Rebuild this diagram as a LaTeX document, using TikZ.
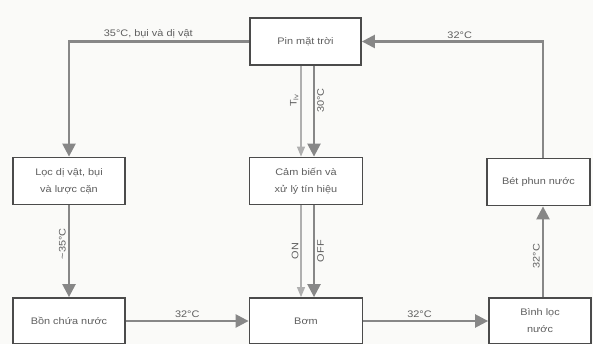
\documentclass[tikz,border=0pt]{standalone}
\usepackage{fontspec}
\setmainfont{Liberation Sans}[FakeStretch=1.15]
\usetikzlibrary{arrows.meta}
\definecolor{paper}{RGB}{250,250,248}
\definecolor{boxline}{RGB}{75,75,75}
\definecolor{flowline}{RGB}{135,135,135}
\definecolor{thinline}{RGB}{175,175,175}
\definecolor{txt}{RGB}{95,95,95}
\tikzset{
  box/.style={draw=boxline, line width=1.8pt, fill=white, minimum height=47pt,
    align=center, text=txt, font=\fontsize{9.5}{17}\selectfont},
  flow/.style={draw=flowline, line width=2.4pt,
    -{Triangle[length=13pt,width=13pt]}},
  thin/.style={draw=thinline, line width=1.1pt,
    -{Triangle[length=10pt,width=8pt]}},
  lbl/.style={text=txt, font=\fontsize{9.5}{11}\selectfont, inner sep=2pt}
}
\begin{document}
\begin{tikzpicture}[x=1pt,y=-1pt]
  \useasboundingbox (0,0) rectangle (593,344);
  \fill[paper] (0,0) rectangle (593,344);
  % boxes
  \node[box, minimum width=111pt] (pin) at (305.5,41.5) {Pin mặt trời};
  \node[box, minimum width=112pt] (loc) at (69,181) {Lọc dị vật, bụi\\và lược cặn};
  \node[box, minimum width=113pt] (cambien) at (306,181) {Cảm biến và\\xử lý tín hiệu};
  \node[box, minimum width=103pt] (betphun) at (538.5,182) {Bét phun nước};
  \node[box, minimum width=112pt, minimum height=46pt] (bon) at (69,321) {Bồn chứa nước};
  \node[box, minimum width=113pt, minimum height=46pt] (bom) at (306,321) {Bơm};
  \node[box, minimum width=102pt, minimum height=46pt] (binhloc) at (540,321) {Bình lọc\\nước};
  % outer loop
  \draw[flow] (pin.west) -| node[lbl, pos=0.28, above] {35°C, bụi và dị vật} (loc.north);
  \draw[flow] (loc.south) -- node[lbl, pos=0.42, rotate=90, above] {\textasciitilde35°C} (bon.north);
  \draw[flow] (bon.east) -- node[lbl, above] {32°C} (bom.west);
  \draw[flow] (bom.east) -- node[lbl, pos=0.45, above] {32°C} (binhloc.west);
  \draw[flow] ([xshift=3pt]binhloc.north) -- node[lbl, pos=0.45, rotate=90, above] {32°C} ([xshift=4.5pt]betphun.south);
  \draw[flow] ([xshift=4.5pt]betphun.north) |- node[lbl, pos=0.73, above] {32°C} (pin.east);
  % sensor lines
  \draw[thin] ([xshift=-4.5pt]pin.south) -- node[lbl, pos=0.38, rotate=90, above] {T\textsubscript{lv}} ([xshift=-5pt]cambien.north);
  \draw[flow] ([xshift=8.5pt]pin.south) -- node[lbl, pos=0.38, rotate=90, below] {30°C} ([xshift=8pt]cambien.north);
  \draw[thin] ([xshift=-5pt]cambien.south) -- node[lbl, rotate=90, above] {ON} ([xshift=-5pt]bom.north);
  \draw[flow] ([xshift=8pt]cambien.south) -- node[lbl, rotate=90, below] {OFF} ([xshift=8pt]bom.north);
\end{tikzpicture}
\end{document}
